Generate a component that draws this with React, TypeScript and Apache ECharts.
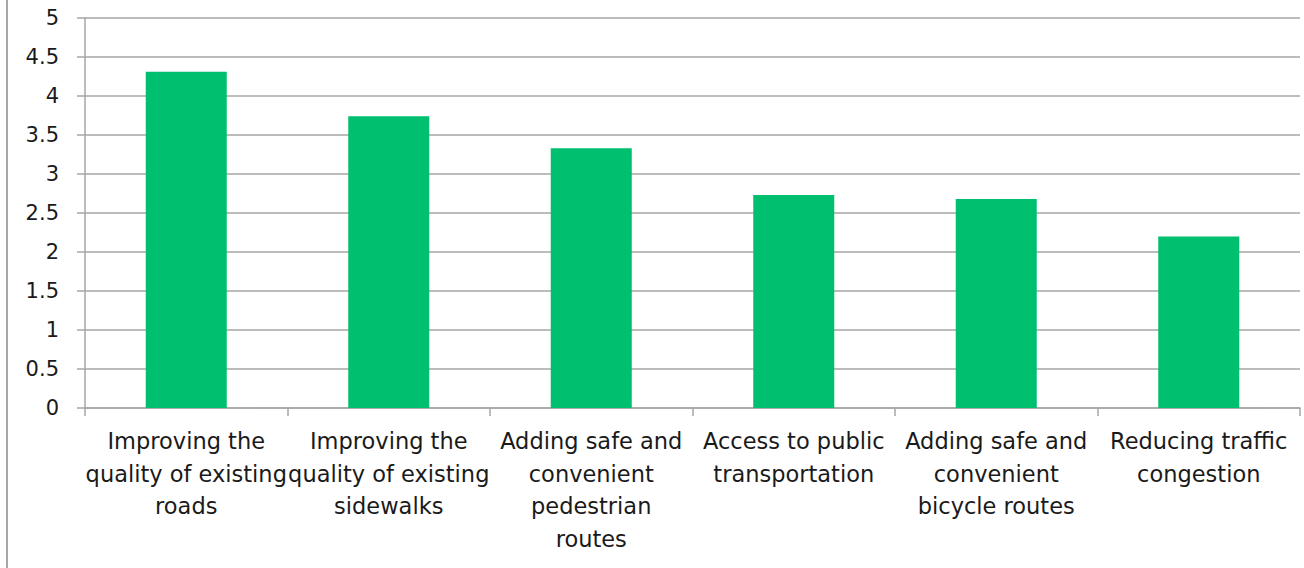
import React, { useEffect, useRef } from "react";
import * as echarts from "echarts";

const categories = [
  "Improving the\nquality of existing\nroads",
  "Improving the\nquality of existing\nsidewalks",
  "Adding safe and\nconvenient\npedestrian\nroutes",
  "Access to public\ntransportation",
  "Adding safe and\nconvenient\nbicycle routes",
  "Reducing traffic\ncongestion",
];
const values = [4.31, 3.74, 3.33, 2.73, 2.68, 2.2];

export default function App() {
  const ref = useRef<HTMLDivElement>(null);
  useEffect(() => {
    document.body.style.margin = "0";
    const chart = echarts.init(ref.current!, null, { renderer: "svg" });
    const font = "'DejaVu Sans', sans-serif";
    chart.setOption({
      animation: false,
      backgroundColor: "#ffffff",
      grid: { left: 85, right: 4, top: 18, bottom: 160, containLabel: false },
      xAxis: {
        type: "category",
        data: categories,
        axisLine: { show: true, lineStyle: { color: "#a6a6a6", width: 1.5 } },
        axisTick: { show: true, length: 8, lineStyle: { color: "#a6a6a6", width: 1.5 } },
        axisLabel: {
          interval: 0,
          margin: 17,
          color: "#1a1a1a",
          fontSize: 22.5,
          lineHeight: 32.5,
          fontFamily: font,
          align: "center",
        },
      },
      yAxis: {
        type: "value",
        min: 0,
        max: 5,
        interval: 0.5,
        axisLine: { show: true, lineStyle: { color: "#a6a6a6", width: 1.5 } },
        axisTick: { show: true, length: 8, lineStyle: { color: "#a6a6a6", width: 1.5 } },
        splitLine: { show: true, lineStyle: { color: "#a6a6a6", width: 1.5 } },
        axisLabel: {
          margin: 26,
          color: "#1a1a1a",
          fontSize: 21,
          fontFamily: font,
        },
      },
      series: [
        {
          type: "bar",
          data: values,
          barWidth: "40%",
          itemStyle: { color: "#00bf6f" },
        },
      ],
      graphic: [
        {
          type: "line",
          shape: { x1: 7, y1: 0, x2: 7, y2: 568 },
          style: { stroke: "#a6a6a6", lineWidth: 2 },
        },
      ],
    });
    return () => chart.dispose();
  }, []);
  return <div ref={ref} style={{ width: 1304, height: 568 }} />;
}
